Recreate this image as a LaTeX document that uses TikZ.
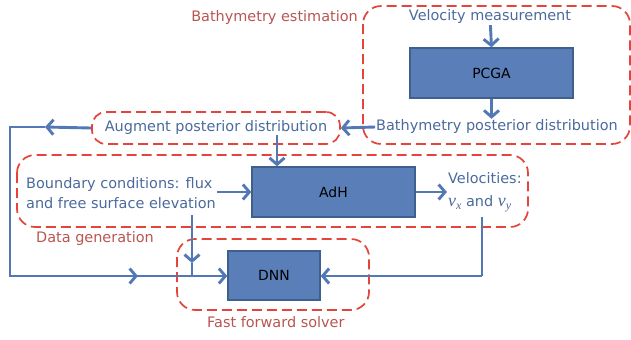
\documentclass[tikz,border=0pt]{standalone}
\usepackage{fontspec}
\setmainfont{DejaVu Sans}
\newfontfamily\varfont{Liberation Serif}
\usetikzlibrary{arrows.meta}
\definecolor{boxfill}{HTML}{5A7FB8}
\definecolor{boxline}{HTML}{3F5F8C}
\definecolor{flow}{HTML}{5279B5}
\definecolor{flowtext}{HTML}{4A6A9C}
\definecolor{grouped}{HTML}{E5443A}
\definecolor{grouptext}{HTML}{B85550}
% velocity component, e.g. \velcomp{x}
\newcommand\velcomp[1]{{\varfont\itshape\fontsize{18}{20}\selectfont v\raisebox{-0.35ex}{\fontsize{12}{14}\selectfont #1}}}
\tikzset{
  stagebox/.style={draw=boxline, line width=1.4bp, fill=boxfill, text=black,
    minimum width=163bp, minimum height=50bp, inner sep=0pt,
    font=\fontsize{14}{16}\selectfont},
  flowlabel/.style={text=flowtext, inner sep=1bp, font=\fontsize{14.5}{20}\selectfont},
  grouplabel/.style={text=grouptext, inner sep=0pt, font=\fontsize{14.5}{16}\selectfont},
  groupframe/.style={draw=grouped, line width=1.7bp, dash pattern=on 10bp off 5bp, rounded corners=18bp},
  flowarrow/.style={draw=flow, line width=2.9bp, -{Straight Barb[length=6.5bp,width=15bp,line width=2.9bp]}},
  flowline/.style={draw=flow, line width=2.9bp},
}
\begin{document}
\begin{tikzpicture}[x=1bp,y=-1bp]
\useasboundingbox (0,0) rectangle (631,339);

% group frames
\draw[groupframe] (363,6) rectangle (630,144);
\draw[groupframe] (17,155) rectangle (528,227);
\draw[groupframe] (177,239) rectangle (369,310);

% group titles
\node[grouplabel, anchor=east] (tbathy) at (358,18) {Bathymetry estimation};
\node[grouplabel, anchor=west] (tdata) at (36,239) {Data generation};
\node[grouplabel, anchor=west] (tfast) at (207,322) {Fast forward solver};

% solver stages
\node[stagebox] (pcga) at (491.5,73) {PCGA};
\node[stagebox] (adh) at (333.5,192) {AdH};
\node[stagebox, minimum width=92bp, minimum height=49bp] (dnn) at (274,275.5) {DNN};

% data labels
\node[flowlabel] (vel) at (490,17) {Velocity measurement};
\node[flowlabel] (bpost) at (497,127) {Bathymetry posterior distribution};
\node[flowlabel, draw=grouped, line width=1.7bp, dash pattern=on 10bp off 5bp,
      rounded corners=14bp, minimum width=248bp, minimum height=32bp] (aug) at (216,128) {Augment posterior distribution};
\node[flowlabel, align=left, anchor=west, font=\fontsize{14.5}{20.5}\selectfont] (bc) at (25,193)
  {Boundary conditions: flux\\and free surface elevation};
\node[flowlabel, align=left, anchor=west, font=\fontsize{14.5}{23}\selectfont] (velo) at (447,192)
  {Velocities:\\\velcomp{x} and \velcomp{y}};

% connector corners
\coordinate (augdown) at (277,135);
\coordinate (loopmid) at (45,127);
\coordinate (loopne) at (10,127);
\coordinate (loopsw) at (10,276);
\coordinate (loopmid2) at (138,276);
\coordinate (bcdown) at (192,215);
\coordinate (bcmid) at (192,263);
\coordinate (bcjoin) at (192,276);
\coordinate (velodown) at (482,217);
\coordinate (velocorner) at (482,276);

% connectors
\draw[flowarrow] (vel) -- (pcga.north);
\draw[flowarrow] (pcga.south) -- (pcga.south |- bpost.north);
\draw[flowarrow] (bpost.west) -- (aug.east);
\draw[flowarrow] (augdown) -- (augdown |- adh.north);
\draw[flowarrow] (bc.east |- adh.west) -- (adh.west);
\draw[flowarrow] (adh.east) -- (velo.west |- adh.east);

\draw[flowarrow] (aug.west) -- (loopmid);
\draw[flowline] (loopmid) -- (loopne) -- (loopsw) -- (loopmid2);
\draw[flowarrow] (loopsw) -- (loopmid2);
\draw[flowarrow] (loopmid2) -- (dnn.west |- loopmid2);

\draw[flowarrow] (bcdown) -- (bcmid);
\draw[flowline] (bcmid) -- (bcjoin);

\draw[flowline] (velodown) -- (velocorner);
\draw[flowarrow] (velocorner) -- (dnn.east |- velocorner);
\end{tikzpicture}
\end{document}
